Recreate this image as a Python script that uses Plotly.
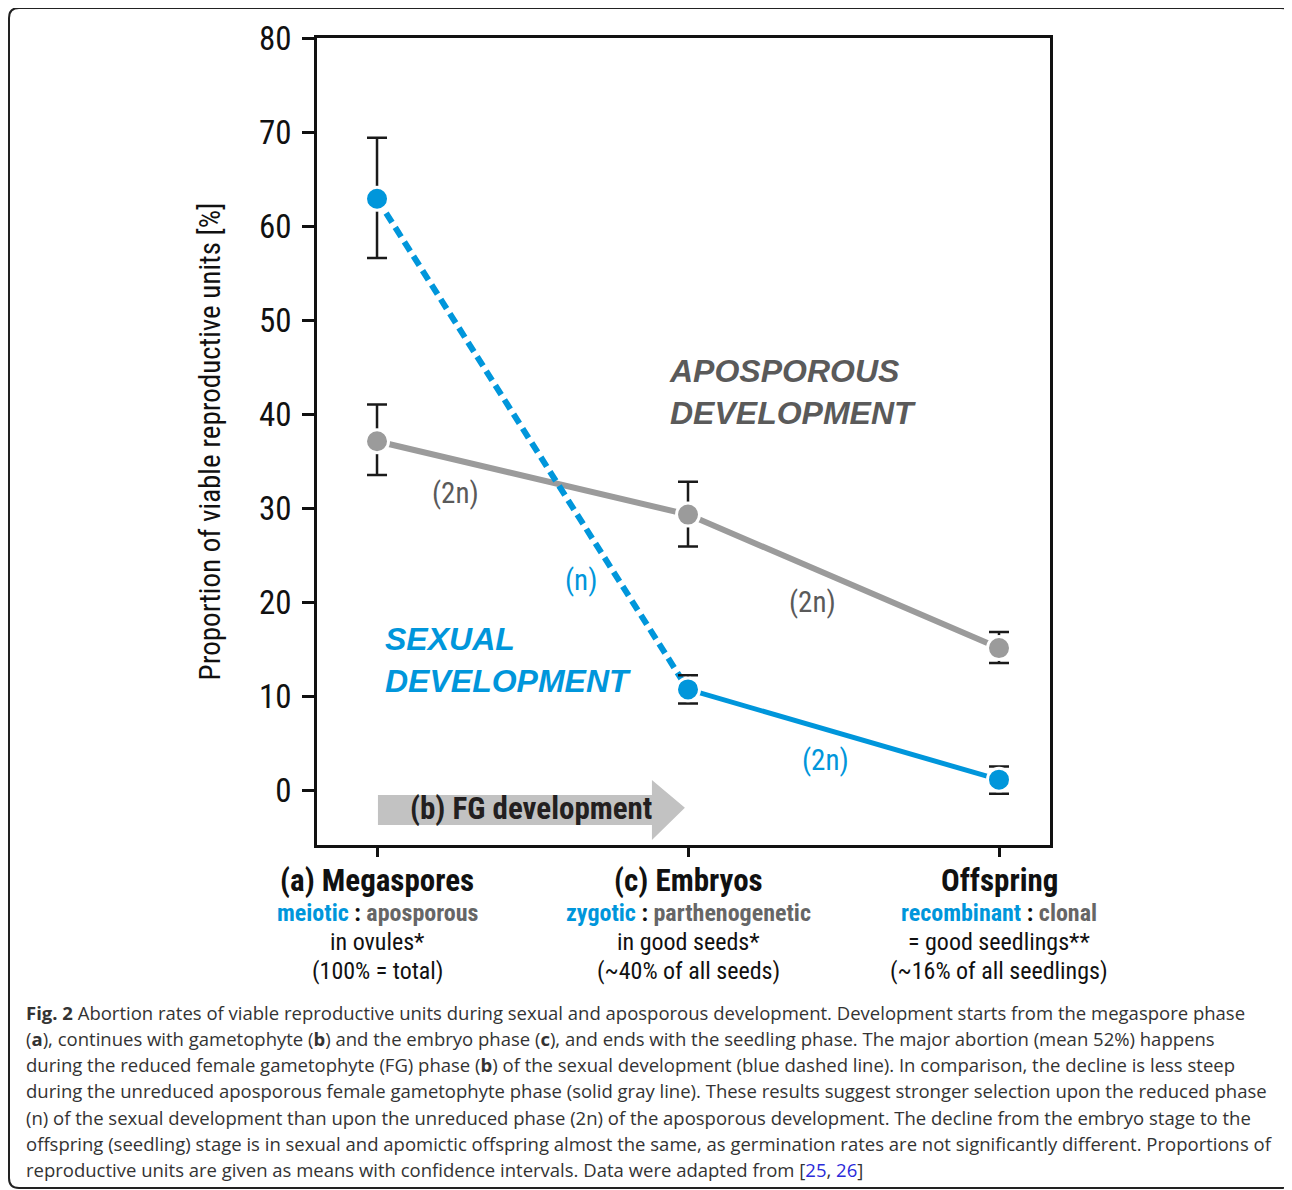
import plotly.graph_objects as go

# ---------------- data ----------------
stages = [0, 1, 2]
stage_titles = ["(a) Megaspores", "(c) Embryos", "Offspring"]
stage_sex = ["meiotic", "zygotic", "recombinant"]
stage_apo = ["aposporous", "parthenogenetic", "clonal"]
stage_line3 = ["in ovules*", "in good seeds*", "= good seedlings**"]
stage_line4 = ["(100% = total)", "(~40% of all seeds)", "(~16% of all seedlings)"]

sexual_mean = [62.9, 10.7, 1.1]
sexual_upper = [69.4, 12.2, 2.5]
sexual_lower = [56.6, 9.2, -0.4]

apo_mean = [37.1, 29.3, 15.1]
apo_upper = [41.0, 32.8, 16.8]
apo_lower = [33.5, 25.9, 13.5]

y_ticks = [0, 10, 20, 30, 40, 50, 60, 70, 80]

caption_lines = [
    "<b>Fig. 2</b> Abortion rates of viable reproductive units during sexual and aposporous development. Development starts from the megaspore phase",
    "(<b>a</b>), continues with gametophyte (<b>b</b>) and the embryo phase (<b>c</b>), and ends with the seedling phase. The major abortion (mean 52%) happens",
    "during the reduced female gametophyte (FG) phase (<b>b</b>) of the sexual development (blue dashed line). In comparison, the decline is less steep",
    "during the unreduced aposporous female gametophyte phase (solid gray line). These results suggest stronger selection upon the reduced phase",
    "(n) of the sexual development than upon the unreduced phase (2n) of the aposporous development. The decline from the embryo stage to the",
    "offspring (seedling) stage is in sexual and apomictic offspring almost the same, as germination rates are not significantly different. Proportions of",
    "reproductive units are given as means with confidence intervals. Data were adapted from [<span style='color:#2b2bd9'>25</span>, <span style='color:#2b2bd9'>26</span>]",
]

# ---------------- style ----------------
BLUE = "#0096DB"
GRAY = "#9b9b9b"
DGRAY = "#5a5a5a"
FONT = "Liberation Sans Narrow, Arial Narrow, Roboto Condensed, Liberation Sans, Arial, sans-serif"
CAPFONT = "Open Sans, Noto Sans, sans-serif"

OFF = 8  # page body margin
W, H = 1292 - OFF, 1190 - OFF
L, R, T, B = 317, 1050, 38, 845  # plot area in page pixels


def px(x):
    return (x - L) / (R - L)


def py(y):
    return (B - y) / (B - T)


fig = go.Figure()

# connecting lines
fig.add_trace(go.Scatter(x=stages, y=apo_mean, mode="lines",
                         line=dict(color=GRAY, width=6), hoverinfo="skip"))
fig.add_trace(go.Scatter(x=stages[:2], y=sexual_mean[:2], mode="lines",
                         line=dict(color=BLUE, width=6, dash="11px,6px"), hoverinfo="skip"))
fig.add_trace(go.Scatter(x=stages[1:], y=sexual_mean[1:], mode="lines",
                         line=dict(color=BLUE, width=5), hoverinfo="skip"))


def err(mean, up, lo):
    return dict(type="data", symmetric=False,
                array=[u - m for u, m in zip(up, mean)],
                arrayminus=[m - l for m, l in zip(mean, lo)],
                color="#1a1a1a", thickness=2.5, width=10)


fig.add_trace(go.Scatter(x=stages, y=apo_mean, mode="markers",
                         marker=dict(color=GRAY, size=23, line=dict(color="white", width=3)),
                         error_y=err(apo_mean, apo_upper, apo_lower)))
fig.add_trace(go.Scatter(x=stages, y=sexual_mean, mode="markers",
                         marker=dict(color=BLUE, size=23, line=dict(color="white", width=3)),
                         error_y=err(sexual_mean, sexual_upper, sexual_lower)))

shapes = []
# FG development arrow (drawn under data)
shapes.append(dict(type="path", xref="x", yref="y", layer="below",
                   path="M 0.003,-0.53 L 0.884,-0.53 L 0.884,1.06 L 0.99,-1.9 L 0.884,-5.32 L 0.884,-3.72 L 0.003,-3.72 Z",
                   fillcolor="#c2c2c2", line=dict(width=0)))
# outer rounded border
shapes.append(dict(type="path", xref="paper", yref="paper", layer="above",
                   path=("M %f,%f L %f,%f Q %f,%f %f,%f L %f,%f Q %f,%f %f,%f L %f,%f Q %f,%f %f,%f L %f,%f Q %f,%f %f,%f Z" % (
                       px(19), py(8), px(1281), py(8), px(1291), py(8), px(1291), py(18),
                       px(1291), py(1178), px(1291), py(1188), px(1281), py(1188),
                       px(19), py(1188), px(9), py(1188), px(9), py(1178),
                       px(9), py(18), px(9), py(8), px(19), py(8))),
                   line=dict(color="#222222", width=2)))

ann = []


def text(x, y, t, size, color, family=FONT, xanchor="center", xref="paper", align="center"):
    ann.append(dict(x=x, y=y, xref=xref, yref="paper", xanchor=xanchor, yanchor="middle",
                    align=align, text=t, showarrow=False,
                    font=dict(family=family, size=size, color=color)))


# arrow text
text(px(531), py(808), "<b>(b) FG development</b>", 31, "#231f20")
# group labels
text(px(667), py(392), "<b><i>APOSPOROUS<br>DEVELOPMENT</i></b>", 32, DGRAY,
     family="Liberation Sans, Arial, sans-serif", xanchor="left", align="left")
text(px(383), py(660), "<b><i>SEXUAL<br>DEVELOPMENT</i></b>", 32, BLUE,
     family="Liberation Sans, Arial, sans-serif", xanchor="left", align="left")
# ploidy labels
for (x, y, t, c) in [(455, 493, "(2n)", DGRAY), (581, 580, "(n)", BLUE),
                     (812, 602, "(2n)", DGRAY), (825, 760, "(2n)", BLUE)]:
    text(px(x), py(y), t, 29, c)

# category labels below axis
for i, s in enumerate(stages):
    text(s, py(880), "<b>%s</b>" % stage_titles[i], 31, "#111111", xref="x")
    text(s, py(913), "<b><span style='color:%s'>%s</span> : <span style='color:%s'>%s</span></b>" % (
        BLUE, stage_sex[i], "#666666", stage_apo[i]), 24, "#111111", xref="x")
    text(s, py(942), stage_line3[i], 24, "#111111", xref="x")
    text(s, py(971), stage_line4[i], 24, "#111111", xref="x")

# caption
for i, line in enumerate(caption_lines):
    text(px(24), py(1012 + 26.3 * i), line, 18.5, "#333333", family=CAPFONT,
         xanchor="left", align="left")

fig.update_layout(
    width=W, height=H, autosize=False,
    margin=dict(l=L - OFF, r=W - (R - OFF), t=T - OFF, b=H - (B - OFF), pad=0),
    paper_bgcolor="white", plot_bgcolor="white",
    showlegend=False,
    shapes=shapes, annotations=ann,
    xaxis=dict(range=[-0.193, 2.164], tickvals=stages, showticklabels=False,
               ticks="outside", ticklen=9, tickwidth=2.5, tickcolor="#111111",
               showline=True, linewidth=2.5, linecolor="#111111", mirror=True,
               showgrid=False, zeroline=False),
    yaxis=dict(range=[-5.85, 80], tickvals=y_ticks, ticks="outside", ticklen=12, tickwidth=2.5,
               tickcolor="#111111", showline=True, linewidth=2.5, linecolor="#111111", mirror=True,
               showgrid=False, zeroline=False, ticklabelstandoff=4,
               tickfont=dict(family=FONT, size=33, color="#111111"),
               title=dict(text="Proportion of viable reproductive units [%]", standoff=30,
                          font=dict(family=FONT, size=29, color="#111111"))),
)

fig.write_html("out.html")
